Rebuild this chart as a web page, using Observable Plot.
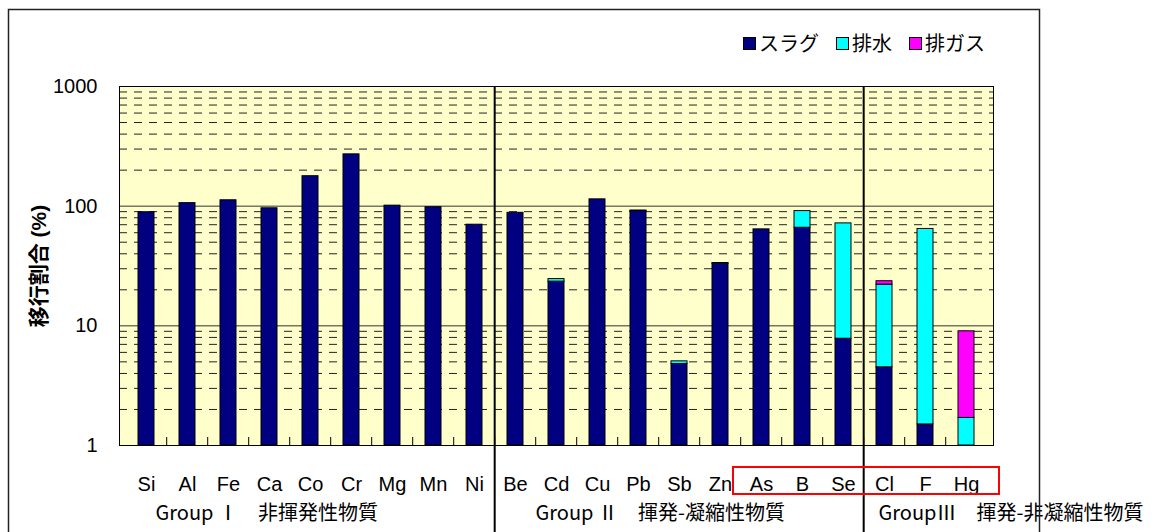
<!DOCTYPE html>
<html><head><meta charset="utf-8">
<script src="https://cdn.jsdelivr.net/npm/d3@7"></script>
<script src="https://cdn.jsdelivr.net/npm/@observablehq/plot@0.6"></script>
<style>
body{margin:0;background:#fff;}
#wrap{position:relative;width:1176px;height:532px;overflow:hidden;font-family:"Liberation Sans","Noto Sans CJK JP",sans-serif;}
#wrap svg{position:absolute;left:0;top:0;}
#legend{position:absolute;left:743px;top:30px;display:flex;gap:17px;font-size:20px;line-height:26px;z-index:2;font-family:"Noto Sans CJK JP",sans-serif;color:#000;}
.item{display:flex;align-items:center;gap:3px;}
.sw{width:11px;height:11px;border:1px solid #000;}
</style></head><body><div id="wrap"><div id="legend"></div></div>
<script>
// ---- data ----
const categories = ["Si","Al","Fe","Ca","Co","Cr","Mg","Mn","Ni","Be","Cd","Cu","Pb","Sb","Zn","As","B","Se","Cl","F","Hg"];
const seriesNames = ["スラグ","排水","排ガス"];
const seriesColors = ["#000080","#00FFFF","#FF00FF"];
const slag  = [89,106,112,96,178,271,101,98,70, 88,23.4,114,91,4.8,33,64,66,7.8, 4.5,1.5,0];
const water = [0,0,0,0,0,0,0,0,0, 0,1.2,0,1.0,0.25,0.5,0,25,64, 17.6,63,1.7];
const gas   = [0,0,0,0,0,0,0,0,0, 0,0,0,0,0,0,0,0,0, 1.5,0,7.3];
const groupLabels = ["Group Ⅰ　非揮発性物質","Group Ⅱ　揮発-凝縮性物質","GroupⅢ　揮発-非凝縮性物質"];
const groupFirst = ["Si","Be","Cl"];
const yTicks = [1,10,100,1000];
const minorSteps = [2,3,4,5,6,7,8,9];
const yTitle = "移行割合 (%)";
const highlighted = ["As","B","Se","Cl","F","Hg"];

// ---- stacked segments ----
const yDomain = [1,1000];
const seriesValues = [slag, water, gas];
const segments = [];
categories.forEach((cat,i) => {
  let cum = 0;
  seriesValues.forEach((vals,s) => {
    const v = vals[i];
    if (v > 0) segments.push({cat, series: seriesNames[s], y1: Math.max(cum, yDomain[0]), y2: cum + v});
    cum += v;
  });
});
const groups = groupLabels.map((label,i) => ({label, first: groupFirst[i]}));
const groupDx = [9, 20, -6];

// ---- layout ----
const W = 1176, H = 532, mL = 119, mT = 86, mR = 183, mB = 87;
const plotW = W - mL - mR, plotH = H - mT - mB;
const step = plotW / categories.length;
const minor = yTicks.slice(0,-1).flatMap(d => minorSteps.map(k => k*d));
const font = "'Liberation Sans','Noto Sans CJK JP',sans-serif";
const cjk = "'Noto Sans CJK JP',sans-serif";

const chart = Plot.plot({
  width: W, height: H, marginLeft: mL, marginTop: mT, marginRight: mR, marginBottom: mB,
  style: {fontFamily: font, fontSize: "20px", color: "#000", background: "transparent", overflow: "visible"},
  x: {domain: categories, paddingInner: 0.615, paddingOuter: 0.3075, tickSize: 0, tickPadding: 31, label: null},
  y: {type: "log", domain: yDomain, ticks: yTicks, tickFormat: d3.format("d"), tickSize: 0, tickPadding: 22, label: null},
  color: {domain: seriesNames, range: seriesColors},
  marks: [
    Plot.frame({fill: "#FFFFCC"}),
    Plot.ruleY(minor, {stroke: "#222", strokeDasharray: "8,7"}),
    Plot.ruleY(yTicks.slice(1,-1), {stroke: "#333"}),
    Plot.rectY(segments, {x: "cat", y1: "y1", y2: "y2", fill: "series", stroke: "#000", strokeWidth: 1}),
    Plot.ruleX(categories.slice(1), {dx: -step/2, insetTop: plotH - 8, stroke: "#000"}),
    Plot.frame({stroke: "#000"}),
    Plot.ruleX(groupFirst.slice(1), {dx: -step/2, insetBottom: -mB, stroke: "#000", strokeWidth: 2}),
    Plot.text([yTitle], {frameAnchor: "left", textAnchor: "middle", lineAnchor: "middle", text: d => d, dx: -80, dy: 0, rotate: -90, fontWeight: "bold", fontSize: 21, fontFamily: font}),
    ...groups.map((g,i) => Plot.text([g], {x: "first", text: "label", frameAnchor: "bottom", lineAnchor: "bottom", textAnchor: "start", dy: 74, dx: groupDx[i], fontSize: 20, fontFamily: cjk}))
  ]
});
const wrap = document.getElementById("wrap");
wrap.appendChild(chart);

// outer chart frame and highlight box (using the x scale)
const xs = chart.scale("x");
const r0 = xs.range[0];
const cellLeft = i => r0 + i * xs.step;
const svg = d3.select(chart);
const hi0 = categories.indexOf(highlighted[0]);
const hi1 = categories.indexOf(highlighted[highlighted.length-1]) + 1;
svg.append("rect")
  .attr("x", cellLeft(hi0) - 1).attr("y", H - mB + 22)
  .attr("width", cellLeft(hi1) + 19 - (cellLeft(hi0) - 1)).attr("height", 27)
  .attr("fill", "none").attr("stroke", "#FF0000").attr("stroke-width", 2);
svg.append("path")
  .attr("d", `M8.5,${H} V9.5 H1039.5 V${H}`)
  .attr("fill", "none").attr("stroke", "#222").attr("stroke-width", 1.5);

// legend
const legend = document.getElementById("legend");
seriesNames.forEach((n,i) => {
  const it = document.createElement("div"); it.className = "item";
  const sw = document.createElement("div"); sw.className = "sw"; sw.style.background = seriesColors[i];
  const tx = document.createElement("span"); tx.textContent = n;
  it.appendChild(sw); it.appendChild(tx); legend.appendChild(it);
});
</script></body></html>
